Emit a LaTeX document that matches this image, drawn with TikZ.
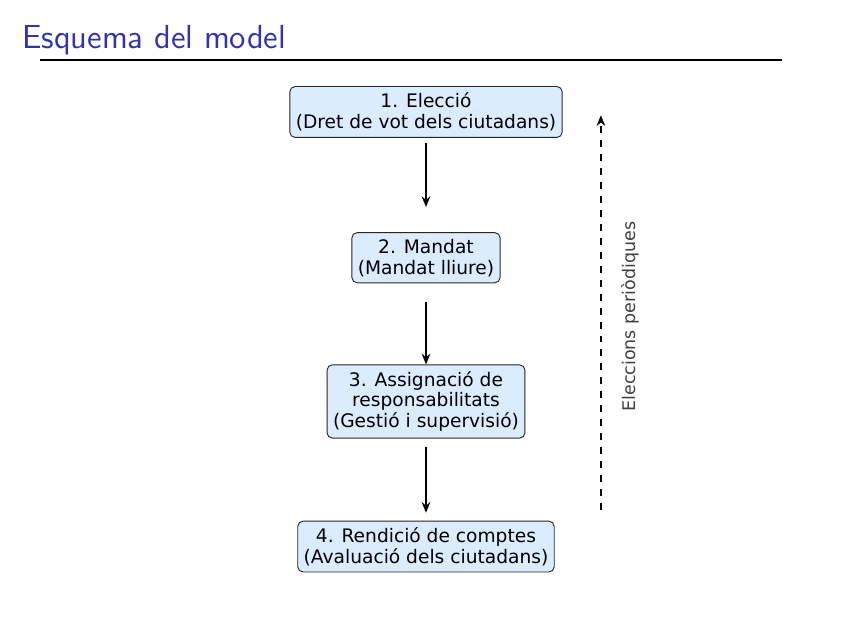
\documentclass[tikz,border=0pt]{standalone}
\usepackage{fontspec}
\usepackage{xcolor}
\usetikzlibrary{arrows.meta}
\newfontfamily\caixafont{DejaVu Sans}
\definecolor{titol}{RGB}{51,51,178}
\definecolor{fonscaixa}{RGB}{219,236,255}

\begin{document}
\begin{tikzpicture}[x=1mm,y=1mm,
	etapa/.style={draw=black!85,fill=fonscaixa,rounded corners=0.8mm,align=center,
		inner xsep=0.9mm,inner ysep=0.95mm,font=\caixafont\fontsize{8}{9}\selectfont},
	fletxa/.style={-{Stealth[length=1.6mm,width=1.3mm]},line width=0.8pt}]
	\useasboundingbox (0,0) rectangle (128,-95.85);
	% titol de la diapositiva
	\node [anchor=base west,inner sep=0pt,text=titol,font=\sffamily\fontsize{14.3}{17}\selectfont] (titol) at (3.3,-7.25) {Esquema del model};
	\draw [line width=0.9pt] (6.04,-9.06) -- (118,-9.06);
	% etapes
	\node [etapa] (eleccio) at (64.3,-16.9) {1. Elecció\\(Dret de vot dels ciutadans)};
	\node [etapa] (mandat) at (64.3,-38.9) {2. Mandat\\(Mandat lliure)};
	\node [etapa] (assignacio) at (64.3,-60.6) {3. Assignació de\\responsabilitats\\(Gestió i supervisió)};
	\node [etapa] (rendicio) at (64.3,-82.5) {4. Rendició de comptes\\(Avaluació dels ciutadans)};
	\draw [fletxa,shorten <=0.75mm,shorten >=3.8mm] (eleccio) -- (mandat);
	\draw [fletxa,shorten <=2.9mm] (mandat) -- (assignacio);
	\draw [fletxa,shorten <=1.2mm,shorten >=1.2mm] (assignacio) -- (rendicio);
	% cicle d'eleccions
	\coordinate (baix) at (90.7,-77);
	\coordinate (dalt) at (90.7,-17.4);
	\draw [fletxa,dashed,line width=0.6pt] (baix) -- (dalt);
	\node [rotate=90,text=black!75,font=\caixafont\fontsize{7.5}{9}\selectfont] (periodiques) at (95.1,-47.8) {Eleccions periòdiques};
\end{tikzpicture}
\end{document}
